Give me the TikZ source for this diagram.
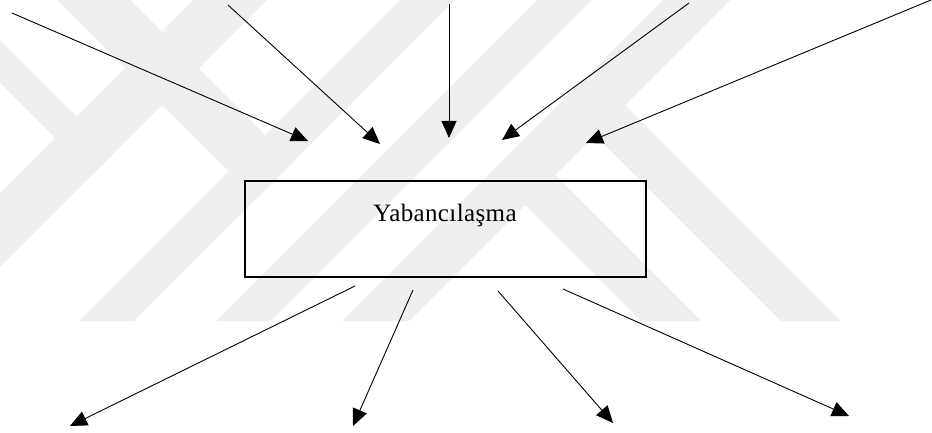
\documentclass[tikz,border=0pt]{standalone}
\usepackage{fontspec}
\setmainfont{Liberation Serif}
\newfontfamily\lblfont[LetterSpace=1.5]{Liberation Serif}
\usetikzlibrary{arrows.meta}
\definecolor{wm}{RGB}{239,239,239}
\begin{document}
\begin{tikzpicture}[x=1pt,y=-1pt,
  conn/.style={line width=0.9pt,-{Triangle[length=17pt,width=15pt]}},
  mainbox/.style={draw,line width=1.8pt,minimum width=401pt,minimum height=96pt,inner sep=0pt},
  lbl/.style={font={\lblfont\fontsize{25}{30}\selectfont},anchor=base,inner sep=0pt},
  band/.style={fill=wm,draw=none}]
\useasboundingbox (0,0) rectangle (932,433);
\fill[white] (0,0) rectangle (932,433);
% watermark
\begin{scope}
\clip (0,0) rectangle (932,321);
\fill[band] (193,0) -- (267,0) -- (0,267) -- (0,193) -- cycle;
\fill[band] (0,40) -- (113.5,153.5) -- (92,175) -- (0,83) -- cycle;
\fill[band] (57,0) -- (130,0) -- (292.5,162.5) -- (256,199) -- cycle;
\fill[band] (400,0) -- (455,0) -- (134,321) -- (79,321) -- cycle;
\fill[band] (537,0) -- (592,0) -- (271,321) -- (216,321) -- cycle;
\fill[band] (663,0) -- (730,0) -- (409,321) -- (342,321) -- cycle;
\fill[band] (591.5,71.5) -- (841,321) -- (781,321) -- (561.5,101.5) -- cycle;
\fill[band] (521.5,141.5) -- (701,321) -- (641,321) -- (491.5,171.5) -- cycle;
\end{scope}
% main box
\node[mainbox] (box) at (445.5,229) {};
\node[lbl] (txt) at (445,222) {Yabancılaşma};
% top arrows
\coordinate (s1) at (12,13);   \coordinate (t1) at (308,141);
\coordinate (s2) at (228,5);   \coordinate (t2) at (380,144);
\coordinate (s3) at (449,4);   \coordinate (t3) at (449,138);
\coordinate (s4) at (689,3);   \coordinate (t4) at (502,140);
\coordinate (s5) at (931,0);   \coordinate (t5) at (586,143);
% bottom arrows
\coordinate (b1) at (355,286); \coordinate (e1) at (70,426);
\coordinate (b2) at (413,290); \coordinate (e2) at (353,426);
\coordinate (b3) at (498,291); \coordinate (e3) at (613,423);
\coordinate (b4) at (563,289); \coordinate (e4) at (849,416);
\foreach \i in {1,...,5} \draw[conn] (s\i) -- (t\i);
\foreach \i in {1,...,4} \draw[conn] (b\i) -- (e\i);
\end{tikzpicture}
\end{document}
